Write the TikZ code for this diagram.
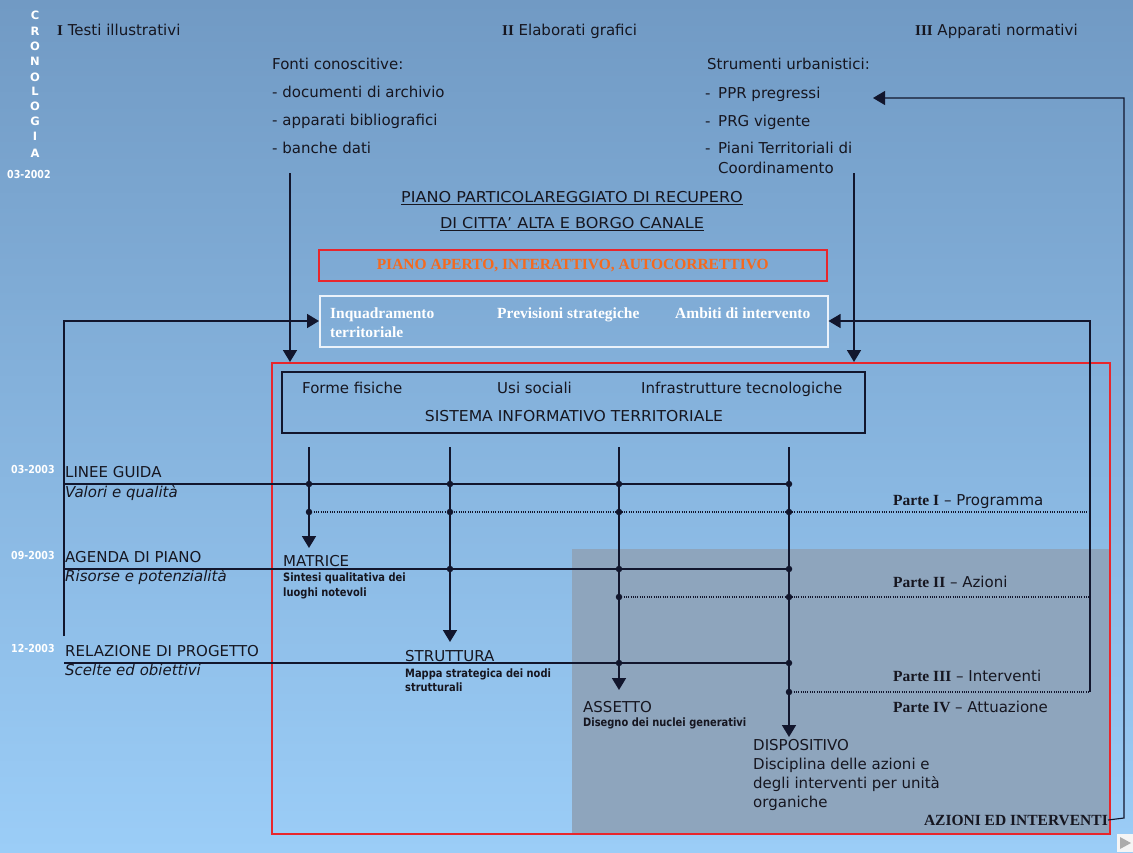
\documentclass[tikz,border=0pt]{standalone}
\usepackage{fontspec}
\setmainfont{DejaVu Sans}
\newfontfamily\sfb{Liberation Serif}
\newfontfamily\smf[FakeStretch=0.86]{DejaVu Sans}
\usetikzlibrary{arrows.meta}
\definecolor{bgtop}{RGB}{113,154,196}
\definecolor{bgbot}{RGB}{155,205,247}
\definecolor{lc}{RGB}{18,22,45}
\definecolor{tc}{RGB}{22,22,32}
\definecolor{rb}{RGB}{232,38,44}
\definecolor{og}{RGB}{245,105,30}
\definecolor{gz}{RGB}{142,165,189}
\definecolor{wb}{RGB}{235,242,250}
\begin{document}
\begin{tikzpicture}[x=1pt,y=-1pt,
 T/.style={anchor=west,inner sep=0pt,text height=11pt,text depth=0pt,text=tc,font=\fontsize{15}{16}\selectfont},
 TI/.style={T,font=\fontsize{15}{16}\selectfont\itshape},
 TC/.style={T,anchor=center},
 S/.style={anchor=west,inner sep=0pt,text height=8pt,text depth=0pt,text=tc,font=\smf\bfseries\fontsize{11.5}{12}\selectfont},
 B/.style={anchor=west,inner sep=0pt,text height=10pt,text depth=0pt,font=\sfb\bfseries\fontsize{15.5}{16}\selectfont},
 D/.style={anchor=west,inner sep=0pt,text height=7.5pt,text depth=0pt,text=white,font=\smf\bfseries\fontsize{11}{12}\selectfont},
 CR/.style={anchor=center,inner sep=0pt,text=white,font=\bfseries\fontsize{11.5}{12}\selectfont},
 ln/.style={draw=lc,line width=1.7pt},
 hl/.style={draw=lc,line width=1.4pt},
 thin/.style={draw=lc,line width=1.1pt},
 dl/.style={draw=lc,line width=1.1pt,dash pattern=on 1pt off 1.3pt},
 ar/.style={-{Triangle[width=14pt,length=12pt]}},
 jd/.style={circle,fill=lc,inner sep=0pt,minimum size=6.5pt}
]
\shade[top color=bgtop,bottom color=bgbot] (0,0) rectangle (1133,852);
\useasboundingbox (0,0) rectangle (1133,852);
% shaded zone
\fill[gz] (572,549) rectangle (1109,833);
% play icon
\fill[white!92!gray] (1117,834) rectangle (1133,852);
\fill[gray!65] (1120,837) -- (1131,843) -- (1120,849) -- cycle;

% chronology
\foreach \l/\yy [count=\i] in {C/15,R/31,O/46,N/61,O/77,L/91,O/106,G/121,I/136,A/153}
  \node[CR] (cr\i) at (35,\yy) {\l};
\node[D] (d0) at (7,175) {03-2002};

% headers
\node[T] (h1) at (57,30) {{\sfb\bfseries I} Testi illustrativi};
\node[T] (h2) at (502,30) {{\sfb\bfseries II} Elaborati grafici};
\node[T] (h3) at (915,30) {{\sfb\bfseries III} Apparati normativi};

\node[T] (fc) at (272,64) {Fonti conoscitive:};
\node[T] (fc1) at (272,92) {- documenti di archivio};
\node[T] (fc2) at (272,120) {- apparati bibliografici};
\node[T] (fc3) at (272,148) {- banche dati};

\node[T] (su) at (707,64) {Strumenti urbanistici:};
\node[T] (sd1) at (705,93) {-};
\node[T] (sd2) at (705,121) {-};
\node[T] (sd3) at (705,148) {-};
\node[T] (su1) at (718,93) {PPR pregressi};
\node[T] (su2) at (718,121) {PRG vigente};
\node[T] (su3) at (718,148) {Piani Territoriali di};
\node[T] (su4) at (718,168) {Coordinamento};

\node[TC] (tit1) at (572,197) {\scalebox{1.07}[1]{\underline{PIANO PARTICOLAREGGIATO DI RECUPERO}}};
\node[TC] (tit2) at (572,223) {\scalebox{1.07}[1]{\underline{DI CITTA' ALTA E BORGO CANALE}}};

% boxes
\node[draw=rb,line width=1.5pt,anchor=north west,inner sep=0pt,minimum width=508pt,minimum height=31pt,
      text=og,font=\sfb\bfseries\fontsize{15.5}{16}\selectfont] (piano) at (318,249) {PIANO APERTO, INTERATTIVO, AUTOCORRETTIVO};
\node[draw=wb,line width=1.5pt,anchor=north west,inner sep=0pt,minimum width=508pt,minimum height=51pt] (wbox) at (319,295) {};
\node[B,text=white] (w1) at (330,313) {Inquadramento};
\node[B,text=white] (w1b) at (330,332) {territoriale};
\node[B,text=white] (w2) at (497,313) {Previsioni strategiche};
\node[B,text=white] (w3) at (675,313) {Ambiti di intervento};

\node[draw=rb,line width=1.6pt,anchor=north west,inner sep=0pt,minimum width=838pt,minimum height=471pt] (redbox) at (271,362) {};
\node[draw=lc,line width=1.5pt,anchor=north west,inner sep=0pt,minimum width=583pt,minimum height=61pt] (sit) at (281,371) {};
\node[T] (s1) at (302,388) {Forme fisiche};
\node[T] (s2) at (497,388) {Usi sociali};
\node[T] (s3) at (641,388) {Infrastrutture tecnologiche};
\node[TC] (s4) at (574,416) {\scalebox{1.04}[1]{SISTEMA INFORMATIVO TERRITORIALE}};

% coordinates
\coordinate (fa) at (290,173);
\coordinate (sa) at (854,173);
\coordinate (lb) at (64,636);
\coordinate (lt) at (64,321);
\coordinate (rb1) at (1090,692);
\coordinate (rt) at (1090,321);
\coordinate (ob) at (1124,818);
\coordinate (ot) at (1124,98);
\coordinate (ppr) at (873,98);
\coordinate (v1) at (309,447);
\coordinate (v2) at (450,447);
\coordinate (v3) at (619,447);
\coordinate (v4) at (789,447);
\coordinate (e1) at (309,548);
\coordinate (e2) at (450,642);
\coordinate (e3) at (619,690);
\coordinate (e4) at (789,737);
\coordinate (la) at (64,484);
\coordinate (lbb) at (64,569);
\coordinate (lc) at (64,663);

% arrows from sources
\draw[ln,ar] (fa) -- (fa |- redbox.north);
\draw[ln,ar] (sa) -- (sa |- redbox.north);
\draw[ln,ar] (lb) -- (lt) -- (lt -| wbox.west);
\draw[thin,ar] (rb1) -- (rt) -- (rt -| wbox.east);

% verticals
\draw[ln,ar] (v1) -- (e1);
\draw[ln,ar] (v2) -- (e2);
\draw[ln,ar] (v3) -- (e3);
\draw[ln,ar] (v4) -- (e4);

% horizontals
\draw[hl] (la) -- (la -| v4);
\draw[hl] (lbb) -- (lbb -| v4);
\draw[hl] (lc) -- (lc -| v4);
\draw[dl] (309,512) -- (1090,512);
\draw[dl] (619,597) -- (1090,597);
\draw[dl] (789,692) -- (rb1);

% junction dots
\foreach \p in {(309,484),(450,484),(619,484),(789,484),(309,512),(450,512),(619,512),(789,512),
  (450,569),(619,569),(789,569),(619,597),(789,597),(619,663),(789,663),(789,692)}
  \node[jd] at \p {};

% left column
\node[D] (d1) at (11,470) {03-2003};
\node[D] (d2) at (11,556) {09-2003};
\node[D] (d3) at (11,649) {12-2003};
\node[T] (lg) at (65,472) {LINEE GUIDA};
\node[TI] (lg2) at (65,492) {Valori e qualità};
\node[T] (ag) at (65,557) {AGENDA DI PIANO};
\node[TI] (ag2) at (65,576) {Risorse e potenzialità};
\node[T] (rp) at (65,651) {RELAZIONE DI PROGETTO};
\node[TI] (rp2) at (65,670) {Scelte ed obiettivi};

% stages
\node[T] (mat) at (283,561) {MATRICE};
\node[S] (mat1) at (283,577) {Sintesi qualitativa dei};
\node[S] (mat2) at (283,592) {luoghi notevoli};
\node[T] (str) at (405,656) {STRUTTURA};
\node[S] (str1) at (405,673) {Mappa strategica dei nodi};
\node[S] (str2) at (405,687) {strutturali};
\node[T] (ass) at (583,707) {ASSETTO};
\node[S] (ass1) at (583,722) {Disegno dei nuclei generativi};
\node[T] (dis) at (753,745) {DISPOSITIVO};
\node[T] (dis1) at (753,764) {Disciplina delle azioni e};
\node[T] (dis2) at (753,783) {degli interventi per unità};
\node[T] (dis3) at (753,802) {organiche};

% parts
\node[T] (p1) at (893,500) {{\sfb\bfseries\fontsize{15.5}{16}\selectfont Parte I} – Programma};
\node[T] (p2) at (893,582) {{\sfb\bfseries\fontsize{15.5}{16}\selectfont Parte II} – Azioni};
\node[T] (p3) at (893,676) {{\sfb\bfseries\fontsize{15.5}{16}\selectfont Parte III} – Interventi};
\node[T] (p4) at (893,707) {{\sfb\bfseries\fontsize{15.5}{16}\selectfont Parte IV} – Attuazione};
\node[B,anchor=east,text=tc] (az) at (1108,820) {AZIONI ED INTERVENTI};

% feedback loop
\draw[thin,ar] (az.east) -- (ob) -- (ot) -- (ppr);
\end{tikzpicture}
\end{document}
